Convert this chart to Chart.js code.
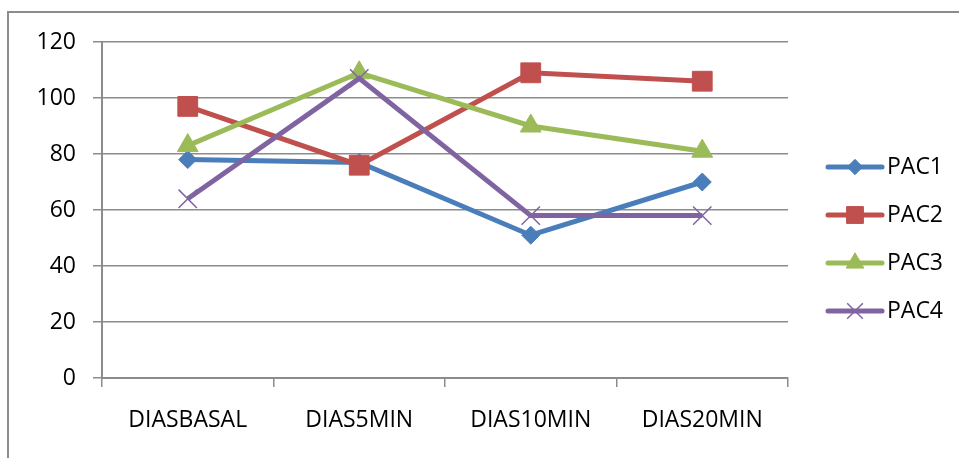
<!DOCTYPE html>
<html>
<head>
<meta charset="utf-8">
<script src="https://cdn.jsdelivr.net/npm/chart.js@4/dist/chart.umd.min.js"></script>
<style>
  html, body { margin: 0; padding: 0; background: #ffffff; }
  #wrap { width: 959px; height: 458px; }
</style>
</head>
<body>
<div id="wrap"><canvas id="chart" width="959" height="458"></canvas></div>
<script>
// Categories and series values
const categories = ['DIASBASAL', 'DIAS5MIN', 'DIAS10MIN', 'DIAS20MIN'];
const pac1 = [78, 77, 51, 70];
const pac2 = [97, 76, 109, 106];
const pac3 = [83, 109, 90, 81];
const pac4 = [64, 107, 58, 58];
const seriesNames = ['PAC1', 'PAC2', 'PAC3', 'PAC4'];
const yTicks = [0, 20, 40, 60, 80, 100, 120];

const FONT = 'Open Sans';
const FONT_SIZE = 23;
const colors = ['#4a7ebb', '#c0504d', '#9bbb59', '#8064a2'];
const styles = [
  { pointStyle: 'rectRot', radius: 9, bw: 1 },
  { pointStyle: 'rect', radius: 14, bw: 1 },
  { pointStyle: 'triangle', radius: 12, bw: 1 },
  { pointStyle: 'crossRot', radius: 13, bw: 1.5 }
];
const values = [pac1, pac2, pac3, pac4];

const datasets = values.map((v, i) => ({
  label: seriesNames[i],
  data: v,
  borderColor: colors[i],
  backgroundColor: colors[i],
  borderWidth: 5,
  pointStyle: styles[i].pointStyle,
  pointRadius: styles[i].radius,
  pointHoverRadius: styles[i].radius,
  pointBorderWidth: styles[i].bw,
  pointBorderColor: colors[i],
  pointBackgroundColor: colors[i],
  tension: 0,
  order: values.length - i
}));

// Outer frame around the chart
const framePlugin = {
  id: 'frame',
  beforeDraw(chart) {
    const ctx = chart.ctx;
    ctx.save();
    ctx.fillStyle = '#ffffff';
    ctx.fillRect(0, 0, chart.width, chart.height);
    ctx.strokeStyle = '#8c8c8c';
    ctx.lineWidth = 2;
    ctx.strokeRect(8, 12, chart.width + 20, chart.height + 20);
    ctx.restore();
  }
};

// Legend: line segment with the series marker, then the name
const lineLegendPlugin = {
  id: 'lineLegend',
  afterDraw(chart) {
    const ctx = chart.ctx;
    const x0 = 828, x1 = 882, yStart = 167, step = 48;
    chart.data.datasets.forEach((ds, i) => {
      const y = yStart + i * step;
      ctx.save();
      ctx.strokeStyle = ds.borderColor;
      ctx.lineWidth = 5;
      ctx.lineCap = 'round';
      ctx.beginPath();
      ctx.moveTo(x0, y);
      ctx.lineTo(x1, y);
      ctx.stroke();
      ctx.fillStyle = ds.pointBackgroundColor;
      ctx.strokeStyle = ds.pointBorderColor;
      ctx.lineWidth = ds.pointBorderWidth;
      ctx.lineCap = 'butt';
      Chart.helpers.drawPoint(ctx, {
        pointStyle: ds.pointStyle,
        radius: ds.pointRadius * 0.85,
        rotation: 0,
        borderWidth: ds.pointBorderWidth
      }, (x0 + x1) / 2, y);
      ctx.restore();
      ctx.save();
      ctx.fillStyle = '#000000';
      ctx.font = FONT_SIZE + 'px "' + FONT + '"';
      ctx.textAlign = 'left';
      ctx.textBaseline = 'middle';
      ctx.fillText(ds.label, 887, y);
      ctx.restore();
    });
  }
};

new Chart(document.getElementById('chart'), {
  type: 'line',
  data: { labels: categories, datasets },
  plugins: [framePlugin, lineLegendPlugin],
  options: {
    responsive: false,
    animation: false,
    events: [],
    layout: { padding: { left: 0, top: 42, right: 171, bottom: 0 } },
    plugins: {
      legend: { display: false },
      tooltip: { enabled: false },
      title: { display: false }
    },
    scales: {
      x: {
        offset: true,
        afterFit(scale) { scale.height = 80; },
        grid: {
          offset: true,
          drawOnChartArea: false,
          drawTicks: true,
          tickLength: 9,
          color: '#8c8c8c',
          lineWidth: 1.5
        },
        border: { display: true, color: '#8c8c8c', width: 2 },
        ticks: {
          color: '#000000',
          font: { family: FONT, size: FONT_SIZE },
          padding: 20,
          maxRotation: 0,
          autoSkip: false
        }
      },
      y: {
        min: 0,
        max: 120,
        afterFit(scale) { scale.width = 102; },
        afterBuildTicks(scale) { scale.ticks = yTicks.map(v => ({ value: v })); },
        grid: {
          color: '#8c8c8c',
          lineWidth: 1.5,
          drawTicks: true,
          tickLength: 9
        },
        border: { display: true, color: '#8c8c8c', width: 2 },
        ticks: {
          color: '#000000',
          font: { family: FONT, size: FONT_SIZE },
          padding: 17
        }
      }
    }
  }
});
</script>
</body>
</html>
